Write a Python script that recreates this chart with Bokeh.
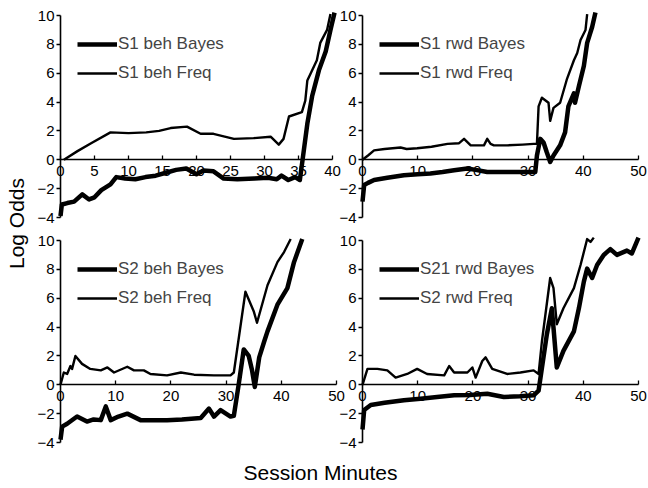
from bokeh.plotting import figure
from bokeh.models import (Range1d, FixedTicker, Legend, LegendItem, Label,
                          LinearAxis)
from bokeh.embed import file_html
from bokeh.resources import INLINE

# ---------------- data (session minutes, log odds) ----------------
s1_beh_bayes_x = [0, 0.2, 1.0, 2.0, 3.2, 4.2, 5.0, 6.0, 7.35, 8.2, 9.5, 11.0, 12.5, 14.0, 15.5, 17.0, 18.5, 20.0, 21.0, 22.5, 24.0, 26.0, 28.5, 30.5, 31.8, 32.5, 33.5, 34.5, 35.2, 35.6, 36.3, 37.0, 38.0, 39.0, 39.7, 40.3]
s1_beh_bayes_y = [-3.9, -3.1, -3.0, -2.9, -2.4, -2.75, -2.6, -2.1, -1.7, -1.2, -1.3, -1.35, -1.2, -1.1, -0.9, -0.7, -0.6, -1.0, -0.75, -0.8, -1.3, -1.35, -1.3, -1.25, -1.35, -1.1, -1.4, -1.2, -1.4, 0.0, 2.5, 4.4, 6.2, 7.5, 9.0, 10.2]
s1_beh_freq_x = [0.5, 2.5, 4.5, 7.35, 10.0, 12.6, 14.5, 16.2, 18.6, 20.6, 22.5, 25.5, 28.4, 30.9, 32.1, 32.8, 33.6, 35.5, 36.0, 36.3, 37.7, 38.2, 39.2, 39.7]
s1_beh_freq_y = [0.0, 0.6, 1.15, 1.9, 1.85, 1.9, 2.0, 2.2, 2.3, 1.8, 1.8, 1.45, 1.5, 1.6, 1.05, 1.45, 3.0, 3.3, 4.1, 5.5, 6.9, 8.1, 9.0, 10.1]

s1_rwd_bayes_x = [0, 0.3, 1.0, 2.1, 4.5, 7.5, 10.0, 12.3, 14.5, 16.6, 19.0, 20.5, 22.6, 25.0, 28.6, 31.3, 31.6, 32.2, 32.8, 33.4, 34.0, 34.6, 35.8, 36.7, 37.3, 38.3, 38.5, 39.2, 40.1, 40.7, 41.6, 42.2]
s1_rwd_bayes_y = [-2.9, -1.75, -1.6, -1.4, -1.25, -1.07, -1.0, -0.95, -0.85, -0.73, -0.6, -0.7, -0.85, -0.85, -0.85, -0.85, 0.3, 1.45, 1.2, 0.5, -0.15, 0.3, 1.0, 1.9, 3.7, 4.6, 3.95, 5.1, 6.5, 8.1, 9.2, 10.2]
s1_rwd_freq_x = [0, 1.0, 2.1, 4.0, 6.9, 8.0, 9.9, 12.5, 15.4, 17.5, 18.4, 19.6, 22.0, 22.6, 23.2, 23.8, 26.2, 29.0, 31.0, 31.6, 31.9, 32.5, 33.7, 34.0, 34.6, 35.8, 37.0, 38.3, 38.9, 39.5, 40.4, 40.7]
s1_rwd_freq_y = [0.0, 0.3, 0.65, 0.75, 0.85, 0.75, 0.8, 0.9, 1.1, 1.15, 1.45, 1.0, 1.0, 1.45, 1.1, 1.0, 1.0, 1.05, 1.1, 1.1, 3.7, 4.3, 3.95, 2.7, 3.6, 3.95, 5.55, 6.9, 7.4, 8.3, 9.0, 10.1]

s2_beh_bayes_x = [0, 0.3, 1.2, 3.0, 4.8, 6.0, 7.3, 8.2, 9.1, 10.5, 12.1, 14.5, 17.0, 19.3, 22.0, 25.4, 26.9, 27.8, 29.0, 30.8, 31.4, 32.3, 33.2, 34.1, 34.7, 35.2, 36.0, 36.9, 37.5, 39.3, 41.1, 42.3, 43.8]
s2_beh_bayes_y = [-3.8, -2.9, -2.7, -2.2, -2.55, -2.4, -2.45, -1.5, -2.45, -2.2, -2.0, -2.45, -2.45, -2.45, -2.4, -2.3, -1.65, -2.2, -1.75, -2.2, -2.15, 0.07, 2.45, 2.0, 1.0, -0.15, 1.9, 3.0, 3.7, 5.55, 6.7, 8.5, 10.1]
s2_beh_freq_x = [0, 0.6, 1.2, 1.8, 2.1, 2.7, 3.9, 5.4, 7.3, 8.5, 9.7, 12.1, 13.3, 15.1, 16.3, 19.3, 21.8, 24.2, 27.8, 30.8, 31.4, 33.5, 35.0, 35.6, 37.5, 39.3, 40.5, 41.7]
s2_beh_freq_y = [0.0, 0.85, 0.75, 1.3, 1.1, 2.0, 1.45, 1.1, 1.0, 1.2, 0.85, 1.25, 1.0, 1.0, 0.75, 0.65, 0.85, 0.7, 0.65, 0.65, 0.85, 6.45, 5.1, 4.3, 6.9, 8.5, 9.2, 10.1]

s2_rwd_bayes_x = [0, 0.3, 1.5, 4.0, 7.5, 10.5, 13.5, 16.6, 19.5, 22.6, 25.6, 28.5, 31.0, 31.9, 33.4, 34.3, 34.6, 35.2, 36.4, 38.3, 39.2, 40.1, 40.7, 41.6, 42.5, 43.7, 44.9, 46.1, 47.9, 48.8, 50.0]
s2_rwd_bayes_y = [-3.1, -1.75, -1.4, -1.25, -1.07, -0.96, -0.85, -0.73, -0.7, -0.62, -0.85, -0.8, -0.73, -0.4, 3.5, 5.3, 3.95, 1.2, 2.35, 3.7, 5.3, 7.15, 8.05, 7.4, 8.3, 9.0, 9.4, 9.0, 9.3, 9.1, 10.2]
s2_rwd_freq_x = [0, 0.9, 2.7, 4.5, 6.0, 8.1, 9.9, 11.7, 14.8, 15.7, 16.6, 19.0, 19.9, 20.5, 21.7, 22.3, 23.5, 26.2, 28.6, 31.0, 31.9, 32.5, 34.0, 34.6, 35.2, 36.4, 38.3, 39.5, 40.7, 41.3, 41.9]
s2_rwd_freq_y = [0.0, 1.1, 1.1, 1.0, 0.5, 0.75, 1.1, 0.75, 0.65, 1.3, 0.85, 0.85, 1.2, 0.5, 1.65, 1.9, 1.1, 0.75, 0.85, 1.0, 0.75, 3.0, 7.4, 6.7, 4.2, 5.3, 6.7, 8.3, 10.1, 9.9, 10.2]

y_ticks = [-4, -2, 0, 2, 4, 6, 8, 10]
x_ticks_40 = [0, 5, 10, 15, 20, 25, 30, 35, 40]
x_ticks_50 = [0, 10, 20, 30, 40, 50]
y_title = "Log Odds"
x_title = "Session Minutes"

# ---------------- layout geometry (pixels) ----------------
W, H = 648, 488
FONT = "Liberation Sans"
Y_LO, Y_HI = -4, 10

# panel frames: (left px of x=0, right px of x=xmax, top px of y=10, bottom px of y=-4)
geo = {
    "p1": (60, 332, 15, 217),
    "p2": (362, 638, 15, 217),
    "p3": (60, 336, 240, 442),
    "p4": (362, 638, 240, 442),
}

panels = [
    dict(key="p1", bx=s1_beh_bayes_x, by=s1_beh_bayes_y, fx=s1_beh_freq_x, fy=s1_beh_freq_y,
         bl="S1 beh Bayes", fl="S1 beh Freq", xmax=40, xt=x_ticks_40),
    dict(key="p2", bx=s1_rwd_bayes_x, by=s1_rwd_bayes_y, fx=s1_rwd_freq_x, fy=s1_rwd_freq_y,
         bl="S1 rwd Bayes", fl="S1 rwd Freq", xmax=50, xt=x_ticks_50),
    dict(key="p3", bx=s2_beh_bayes_x, by=s2_beh_bayes_y, fx=s2_beh_freq_x, fy=s2_beh_freq_y,
         bl="S2 beh Bayes", fl="S2 beh Freq", xmax=50, xt=x_ticks_50),
    dict(key="p4", bx=s2_rwd_bayes_x, by=s2_rwd_bayes_y, fx=s2_rwd_freq_x, fy=s2_rwd_freq_y,
         bl="S21 rwd Bayes", fl="S2 rwd Freq", xmax=50, xt=x_ticks_50),
]

p = figure(width=W, height=H, min_border=0, x_axis_location=None, y_axis_location=None,
           x_range=Range1d(0, W), y_range=Range1d(0, H),
           output_backend="svg", toolbar_location=None)
p.outline_line_color = None
p.grid.visible = False
p.background_fill_color = "white"
p.border_fill_color = "white"

for d in panels:
    k = d["key"]
    x0, x1, yt, yb = geo[k]
    sx = (x1 - x0) / d["xmax"]             # px per minute
    sy = (yb - yt) / (Y_HI - Y_LO)         # px per log-odds unit
    y0_px = yt + Y_HI * sy                 # screen px (from top) of y = 0
    p.extra_x_ranges[k] = Range1d(-x0 / sx, (W - x0) / sx)
    p.extra_y_ranges[k] = Range1d(-(H - y0_px) / sy, y0_px / sy)

    rb = p.line(d["bx"], d["by"], x_range_name=k, y_range_name=k,
                line_color="black", line_width=4.5, line_join="round")
    rf = p.line(d["fx"], d["fy"], x_range_name=k, y_range_name=k,
                line_color="black", line_width=2.4, line_join="round")

    xa = LinearAxis(x_range_name=k, y_range_name=k, fixed_location=0,
                    bounds=(0, d["xmax"]), ticker=FixedTicker(ticks=d["xt"]),
                    major_tick_in=4, major_tick_out=0,
                    minor_tick_line_color=None, axis_line_width=1.6,
                    major_tick_line_width=1.3, major_label_standoff=6,
                    major_label_text_font=FONT, major_label_text_font_size="15px",
                    major_label_text_color="black")
    ya = LinearAxis(x_range_name=k, y_range_name=k, fixed_location=0,
                    bounds=(Y_LO, Y_HI), ticker=FixedTicker(ticks=y_ticks),
                    major_tick_in=0, major_tick_out=4,
                    minor_tick_line_color=None, axis_line_width=1.6,
                    major_tick_line_width=1.3, major_label_standoff=2,
                    major_label_text_font=FONT, major_label_text_font_size="15px",
                    major_label_text_color="black")
    p.add_layout(xa, "below")
    p.add_layout(ya, "left")

    # legend: rows aligned with the y = 8 and y = 6 levels, glyph starting 17 px right of the axis
    glyph_h, gap = 20, 9
    leg_h = 2 * glyph_h + gap
    top_px = yt + (Y_HI - 8) * sy - glyph_h / 2
    leg = Legend(items=[LegendItem(label=d["bl"], renderers=[rb]),
                        LegendItem(label=d["fl"], renderers=[rf])],
                 location=(x0 + 17, H - top_px - leg_h), padding=0, spacing=gap,
                 glyph_width=40, glyph_height=glyph_h, label_height=glyph_h,
                 label_standoff=1, label_text_font=FONT,
                 label_text_font_size="17px", border_line_alpha=0,
                 background_fill_alpha=0)
    p.add_layout(leg)

p.add_layout(Label(x=16, y=H - 223, x_units="screen", y_units="screen", text=y_title,
                   angle=1.5707963, text_font=FONT, text_font_size="21px",
                   text_align="center", text_baseline="middle", text_color="black"))
p.add_layout(Label(x=320, y=H - 472, x_units="screen", y_units="screen", text=x_title,
                   text_font=FONT, text_font_size="21px",
                   text_align="center", text_baseline="middle", text_color="black"))

open("out.html", "w").write(file_html(p, INLINE))
